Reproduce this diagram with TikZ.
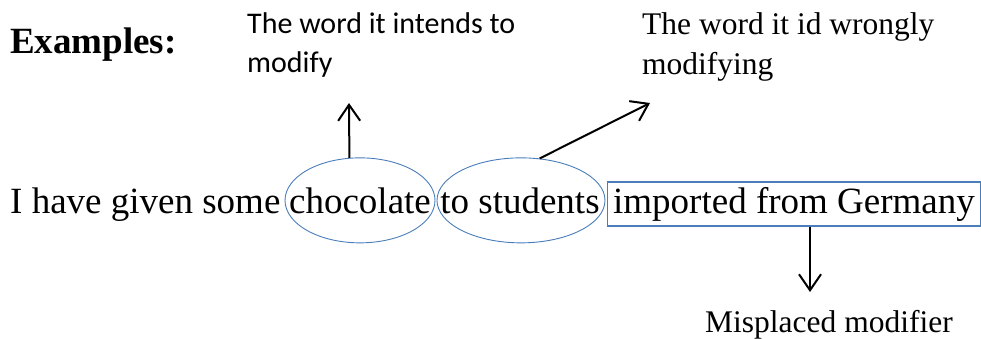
\documentclass[tikz,border=0pt]{standalone}
\usepackage{fontspec}
\setmainfont{Liberation Serif}
\newfontfamily\calibri{Carlito}
\usepackage{tikz}
\usetikzlibrary{arrows.meta, shapes.geometric, positioning}
\definecolor{ringblue}{RGB}{74,126,187}

\begin{document}
\begin{tikzpicture}[x=1pt,y=-1pt]
        \tikzstyle{every node}+=[inner sep=0pt]
        \tikzstyle{word}=[font=\fontsize{37}{44}\selectfont, anchor=base]
        \tikzstyle{note}=[font=\fontsize{31.5}{40}\selectfont, align=left, anchor=base west]
        \tikzstyle{ring}=[draw=ringblue, line width=0.9pt, ellipse, minimum height=85pt]
        \tikzstyle{arr}=[black, line width=2pt, -{Straight Barb[length=16pt,width=22pt,line width=2pt]}]
        \useasboundingbox (0,0) rectangle (981,338);
        \node [word, anchor=base west, font=\fontsize{37}{44}\selectfont\bfseries] (title) at (10,53) {Examples:};
        \node [word, anchor=base west] (start) at (10,213) {I have given some};
        \node [word] (choc) at (360,213) {chocolate};
        \node [word] (stud) at (520,213) {to students};
        \node [word, draw=ringblue, line width=1.4pt, minimum width=373pt, inner ysep=5pt] (phrase) at (794,213) {imported from Germany};
        \node [ring, minimum width=150pt] (chocring) at (choc) {};
        \node [ring, minimum width=168pt] (studring) at ([xshift=1pt]stud) {};
        \node [note, font=\calibri\fontsize{30}{39}\selectfont] (intends) at (247,72) {The word it intends to\\modify};
        \node [note] (wrongly) at (642,74) {The word it id wrongly\\modifying};
        \node [note] (misplaced) at (705,332) {Misplaced modifier};
        \coordinate (tip1) at (349,103);
        \coordinate (tip2) at (650,103);
        \coordinate (tip3) at (810,292);
        \draw [arr] (chocring.104) -- (tip1);
        \draw [arr] (studring.66) -- (tip2);
        \draw [arr] ([xshift=16pt]phrase.south) -- (tip3);
\end{tikzpicture}
\end{document}
